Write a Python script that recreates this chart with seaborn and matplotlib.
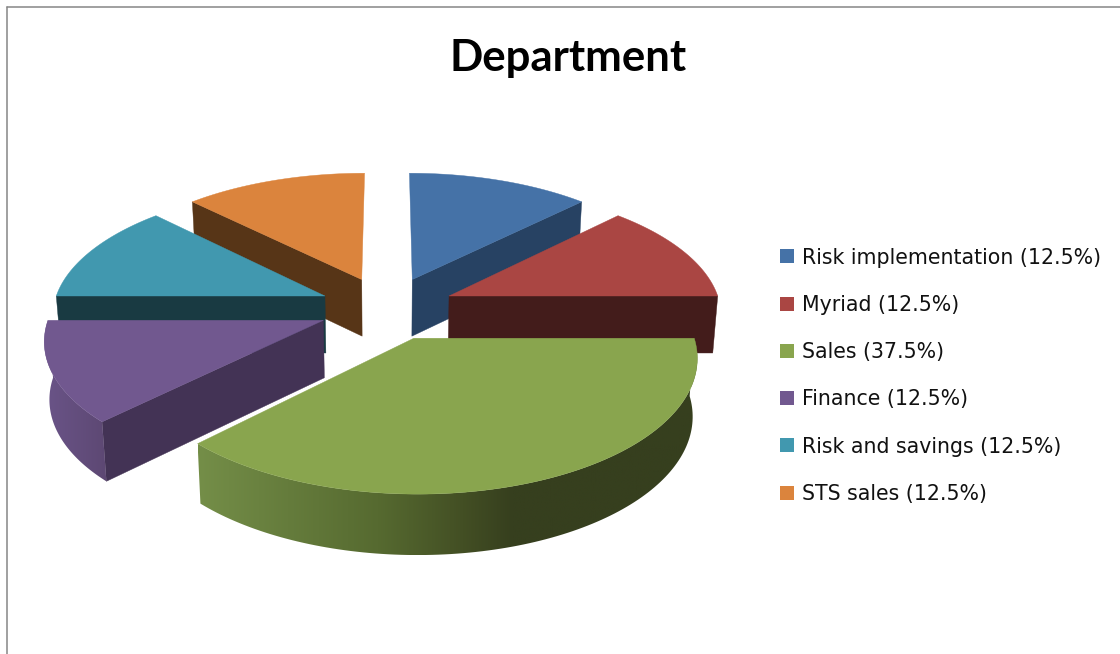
import numpy as np
import matplotlib
matplotlib.use("Agg")
import matplotlib.pyplot as plt
import seaborn as sns
from matplotlib.colors import LinearSegmentedColormap
from matplotlib.patches import Patch, Polygon

# ---- data ----
TITLE = "Department"
departments = ["Risk implementation", "Myriad", "Sales", "Finance", "Risk and savings", "STS sales"]
shares = [12.5, 12.5, 37.5, 12.5, 12.5, 12.5]

# ---- colours ----
top_colors = ["#4572a7", "#aa4643", "#89a54e", "#71588f", "#4198af", "#db843d"]
cut_colors = ["#274263", "#431c1b", "#36411d", "#433355", "#193a42", "#573517"]
wall_stops = {
    2: [(0.0, "#748e48"), (0.36, "#566a30"), (0.53, "#434f24"), (0.63, "#363f1e"), (1.0, "#363f1e")],
    3: [(0.0, "#6a5488"), (1.0, "#5d4873")],
}

# ---- geometry of the fake 3d pie, in pixels ----
CX, CY = 387, 308
EXPLODE = 0.25
RX, RY, PERSP = 272, 127, 0.13
DEPTH = 57
SHRINK = 0.985
DRAW_ORDER = [5, 0, 4, 1, 3, 2]

sns.set_theme(style="white")
plt.rcParams["font.family"] = ["Noto Sans", "DejaVu Sans"]
palette = sns.color_palette(top_colors)


def project(u, v):
    d = 1 + PERSP * v
    return CX + RX * u / d, CY - RY * v / d


def rim(mid, angle):
    # angle runs clockwise from 12 o'clock, slice moved out along its middle
    return project(EXPLODE * np.sin(mid) + np.sin(angle), EXPLODE * np.cos(mid) + np.cos(angle))


def sink(pt):
    return CX + (pt[0] - CX) * SHRINK, pt[1] + DEPTH + 0.02 * (pt[1] - 297)


fig, ax = plt.subplots(figsize=(11.2, 6.54), dpi=100)
ax.set_position([0, 0, 1, 1])
ax.axis("off")

# chart area border, only left and top are in the crop
ax.plot([7, 7], [654, 6.5], color="#868686", lw=1.1, zorder=1)
ax.plot([7, 1120], [6.5, 6.5], color="#868686", lw=1.1, zorder=1)

edges = np.radians(np.concatenate([[0], np.cumsum(shares)]) / np.sum(shares) * 360)

for z, i in enumerate(DRAW_ORDER):
    z = z + 2
    a0, a1 = edges[i], edges[i + 1]
    mid = (a0 + a1) / 2
    apex = project(EXPLODE * np.sin(mid), EXPLODE * np.cos(mid))
    arc = [rim(mid, a) for a in np.linspace(a0, a1, 120)]

    # cut faces, only those turned to the viewer
    if np.sin(a0) < -1e-9:
        face = [apex, arc[0], sink(arc[0]), sink(apex)]
        ax.add_patch(Polygon(face, fc=cut_colors[i], ec=cut_colors[i], lw=0.3, zorder=z))
    if np.sin(a1) > 1e-9:
        face = [apex, arc[-1], sink(arc[-1]), sink(apex)]
        ax.add_patch(Polygon(face, fc=cut_colors[i], ec=cut_colors[i], lw=0.3, zorder=z))

    # outer wall, gradient image clipped to the wall outline
    if i in wall_stops:
        cmap = LinearSegmentedColormap.from_list("wall", wall_stops[i])
        outline = arc + [sink(p) for p in arc[::-1]]
        xs = [p[0] for p in outline]
        ys = [p[1] for p in outline]
        grad = np.linspace(0, 1, 256)[None, :]
        im = ax.imshow(grad, cmap=cmap, vmin=0, vmax=1, aspect="auto", zorder=z,
                       extent=(min(xs), max(xs), max(ys), min(ys)))
        im.set_clip_path(Polygon(outline, transform=ax.transData))

    ax.add_patch(Polygon([apex] + arc, fc=palette[i], ec=palette[i], lw=0.3, zorder=z))

ax.set_xlim(0, 1120)
ax.set_ylim(654, 0)

ax.text(568.5, 71, TITLE, ha="center", va="baseline", fontsize=31.5, fontweight="bold",
        family=["Lato", "DejaVu Sans"], color="black")

handles = [Patch(fc=palette[i], ec="none", label=f"{d} ({s}%)")
           for i, (d, s) in enumerate(zip(departments, shares))]
ax.legend(handles=handles, loc="center left", bbox_to_anchor=(780 / 1120, 1 - 375.7 / 654),
          frameon=False, prop={"family": "DejaVu Sans", "size": 14.8},
          handlelength=0.68, handleheight=0.68, handletextpad=0.4,
          labelspacing=1.325, borderpad=0, borderaxespad=0, labelcolor="#111111")

fig.savefig("out.png", dpi=100)
